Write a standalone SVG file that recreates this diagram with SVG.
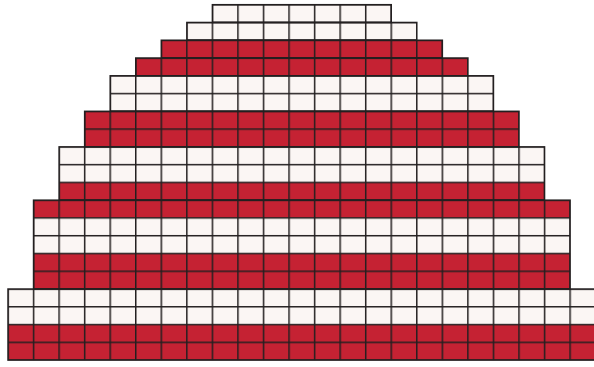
<svg xmlns="http://www.w3.org/2000/svg" width="594" height="367" viewBox="0 0 594 367">
<style>
.w{fill:#fbf6f4}
.r{fill:#c52233}
.g{fill:url(#grid);stroke:#231f20;stroke-width:1.5}
</style>
<defs>
<pattern id="grid" patternUnits="userSpaceOnUse" x="7.25" y="3.95" width="25.55" height="17.77">
<path d="M0.75,0V17.77M0,0.75H25.55" stroke="#231f20" stroke-width="1.5" fill="none"/>
</pattern>
</defs>
<rect width="594" height="367" fill="#ffffff"/>
<g id="fills">
<rect class="w" x="212.4" y="4.7" width="178.85" height="17.77"/>
<rect class="w" x="186.85" y="22.47" width="229.95" height="17.77"/>
<rect class="r" x="161.3" y="40.24" width="281.05" height="17.77"/>
<rect class="r" x="135.75" y="58.01" width="332.15" height="17.77"/>
<rect class="w" x="110.2" y="75.78" width="383.25" height="35.54"/>
<rect class="r" x="84.65" y="111.32" width="434.35" height="35.54"/>
<rect class="w" x="59.1" y="146.86" width="485.45" height="35.54"/>
<rect class="r" x="59.1" y="182.4" width="485.45" height="17.77"/>
<rect class="r" x="33.55" y="200.17" width="536.55" height="17.77"/>
<rect class="w" x="33.55" y="217.94" width="536.55" height="35.54"/>
<rect class="r" x="33.55" y="253.48" width="536.55" height="35.54"/>
<rect class="w" x="8" y="289.02" width="587.65" height="35.54"/>
<rect class="r" x="8" y="324.56" width="587.65" height="35.54"/>
</g>
<g id="gridlines">
<rect class="g" x="212.4" y="4.7" width="178.85" height="17.77"/>
<rect class="g" x="186.85" y="22.47" width="229.95" height="17.77"/>
<rect class="g" x="161.3" y="40.24" width="281.05" height="17.77"/>
<rect class="g" x="135.75" y="58.01" width="332.15" height="17.77"/>
<rect class="g" x="110.2" y="75.78" width="383.25" height="35.54"/>
<rect class="g" x="84.65" y="111.32" width="434.35" height="35.54"/>
<rect class="g" x="59.1" y="146.86" width="485.45" height="53.31"/>
<rect class="g" x="33.55" y="200.17" width="536.55" height="88.85"/>
<rect class="g" x="8" y="289.02" width="587.65" height="71.08"/>
</g>
</svg>
